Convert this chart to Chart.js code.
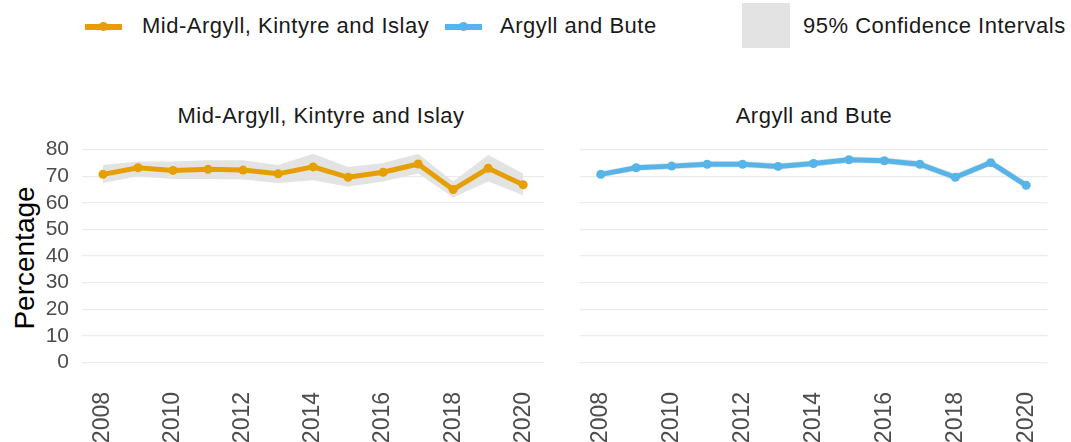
<!DOCTYPE html>
<html>
<head>
<meta charset="utf-8">
<script src="https://cdn.jsdelivr.net/npm/chart.js@4.4.0/dist/chart.umd.min.js"></script>
<style>
  body { margin: 0; background: #fff; font-family: "Liberation Sans", Arial, sans-serif; }
  #wrap { position: relative; width: 1071px; height: 442px; overflow: hidden; }
  .legend { position: absolute; top: 13px; font-size: 22px; letter-spacing: 0.5px; color: #1a1a1a; white-space: nowrap; }
  .swatch { position: absolute; }
  .ptitle { position: absolute; top: 103px; font-size: 22px; letter-spacing: 0.5px; color: #1a1a1a; text-align: center; }
  .ytitle { position: absolute; left: 25px; top: 258px; font-size: 28px; color: #000;
            transform: translate(-50%, -50%) rotate(-90deg); white-space: nowrap; }
  canvas { position: absolute; }
</style>
</head>
<body>
<div id="wrap">
  <div class="swatch" style="left:85px;top:24px;width:37px;height:6px;background:#E69F00"></div>
  <div class="swatch" style="left:99px;top:22px;width:9px;height:9px;border-radius:50%;background:#E69F00"></div>
  <div class="legend" style="left:142px">Mid-Argyll, Kintyre and Islay</div>
  <div class="swatch" style="left:445px;top:24px;width:37px;height:6px;background:#56B4E9"></div>
  <div class="swatch" style="left:459px;top:22px;width:9px;height:9px;border-radius:50%;background:#56B4E9"></div>
  <div class="legend" style="left:500px">Argyll and Bute</div>
  <div class="swatch" style="left:742px;top:3px;width:48px;height:45px;background:#e3e3e3"></div>
  <div class="legend" style="left:803px">95% Confidence Intervals</div>

  <div class="ptitle" style="left:82px;width:478px">Mid-Argyll, Kintyre and Islay</div>
  <div class="ptitle" style="left:575px;width:478px">Argyll and Bute</div>
  <div class="ytitle">Percentage</div>

  <canvas id="c1" style="left:0;top:100px" width="562" height="342"></canvas>
  <canvas id="c2" style="left:575px;top:100px" width="490" height="342"></canvas>
</div>
<script>
const years = [2008, 2009, 2010, 2011, 2012, 2013, 2014, 2015, 2016, 2017, 2018, 2019, 2020];
const xTicks = [2008, 2010, 2012, 2014, 2016, 2018, 2020];
const yTicks = [0, 10, 20, 30, 40, 50, 60, 70, 80];

const midArgyll = [70.7, 73.2, 72.2, 72.6, 72.3, 70.9, 73.5, 69.6, 71.5, 74.6, 65.0, 73.0, 66.8];
const midArgyllLow = [67.5, 70.0, 69.0, 69.0, 68.8, 67.5, 68.5, 66.0, 68.0, 71.0, 62.0, 68.0, 62.8];
const midArgyllHigh = [74.2, 75.5, 75.5, 76.0, 76.0, 74.2, 78.5, 73.5, 75.0, 78.5, 68.0, 78.0, 71.0];

const argyllBute = [70.7, 73.2, 73.8, 74.5, 74.5, 73.7, 74.8, 76.2, 75.8, 74.5, 69.6, 75.1, 66.6];
const argyllButeLow = [69.5, 72.0, 72.6, 73.3, 73.3, 72.5, 73.6, 75.0, 74.6, 73.2, 68.3, 73.8, 65.2];
const argyllButeHigh = [71.9, 74.4, 75.0, 75.7, 75.7, 74.9, 76.0, 77.4, 77.0, 75.8, 70.9, 76.4, 68.0];

function pts(vals) {
  return vals.map((v, i) => ({ x: years[i], y: v }));
}

function makeChart(id, values, low, high, colour, showY) {
  const ctx = document.getElementById(id).getContext("2d");
  return new Chart(ctx, {
    type: "line",
    data: {
      datasets: [
        { data: pts(low), borderWidth: 0, borderColor: "rgba(0,0,0,0)", pointRadius: 0, fill: false, backgroundColor: "#e3e3e3" },
        { data: pts(high), borderWidth: 0, borderColor: "rgba(0,0,0,0)", pointRadius: 0, fill: "-1", backgroundColor: "#e3e3e3" },
        { data: pts(values), borderColor: colour, backgroundColor: colour, borderWidth: 5,
          pointRadius: 4.5, pointBorderWidth: 0, fill: false, tension: 0 },
      ],
    },
    options: {
      responsive: false,
      animation: false,
      layout: { padding: { top: 39, right: 0, bottom: 0, left: 0 } },
      plugins: {
        legend: { display: false },
        tooltip: { enabled: false },
        filler: { drawTime: "beforeDatasetsDraw" },
      },
      scales: {
        x: {
          type: "linear",
          min: 2007.4,
          max: 2020.6,
          afterBuildTicks: (axis) => { axis.ticks = xTicks.map((v) => ({ value: v })); },
          afterFit: (axis) => { axis.height = 69; },
          grid: { display: false },
          border: { display: false },
          ticks: {
            minRotation: 90, maxRotation: 90, padding: 11,
            color: "#4d4d4d", font: { family: "Liberation Sans", size: 23 },
            callback: (v) => String(v),
          },
        },
        y: {
          min: -4,
          max: 84,
          afterBuildTicks: (axis) => { axis.ticks = yTicks.map((v) => ({ value: v })); },
          afterFit: (axis) => { axis.width = showY ? 82 : 0; },
          grid: { color: "#ebebeb", lineWidth: 1.2, drawTicks: false },
          border: { display: false },
          ticks: {
            display: showY, padding: 13,
            color: "#4d4d4d", font: { family: "Liberation Sans", size: 21 },
          },
        },
      },
    },
  });
}

makeChart("c1", midArgyll, midArgyllLow, midArgyllHigh, "#E69F00", true);
makeChart("c2", argyllBute, argyllButeLow, argyllButeHigh, "#56B4E9", false);
</script>
</body>
</html>
